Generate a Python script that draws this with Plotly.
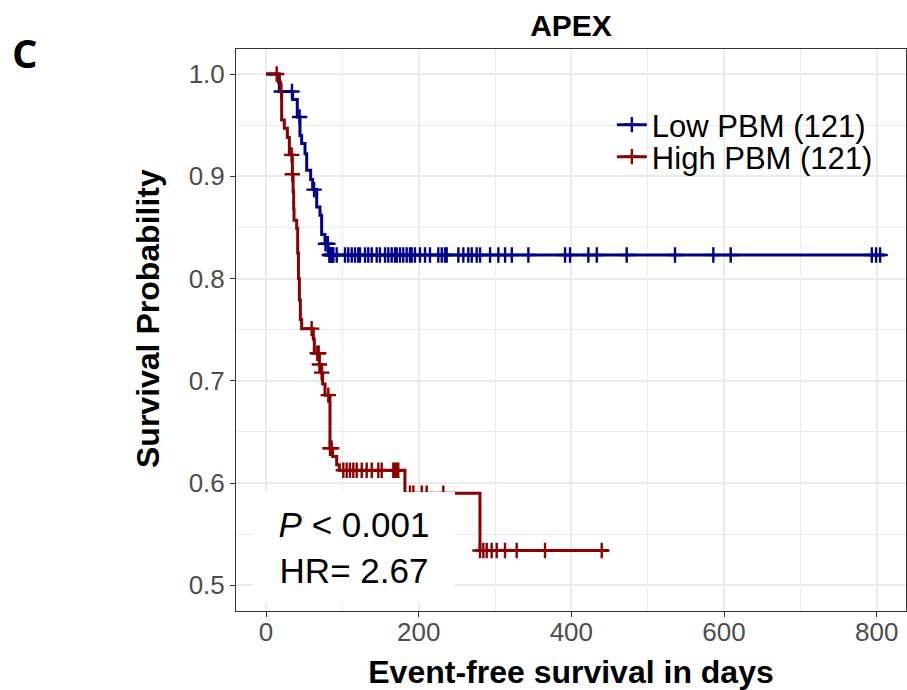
import numpy as np
import plotly.graph_objects as go

# ---------------- data ----------------
group_names = ["Low PBM (121)", "High PBM (121)"]

low_step_days = [0, 17.5, 34.9, 41.0, 44.5, 46.7, 51.1, 53.3, 58.5, 61.1, 66.4, 70.7, 72.9, 77.3, 81.6]
low_step_surv = [1.0, 0.983, 0.975, 0.958, 0.940, 0.932, 0.922, 0.906, 0.897, 0.887, 0.870, 0.862, 0.843, 0.834, 0.823]
low_end_day = 810.8
low_censor_days = [20, 34, 44, 63, 78, 81, 83, 84, 85, 86, 87, 88.2, 92.6, 103.5, 107.8, 112.3,
                   116.6, 120.9, 123.1, 129.7, 134, 138.5, 145, 149.3, 155.9, 160.2, 164.6, 168.9,
                   171.2, 175.5, 179.8, 184.3, 188.6, 190.8, 195.1, 201.7, 208.3, 214.8, 225.7,
                   230.2, 234.5, 236.7, 252, 258.5, 265, 269.5, 276, 280.4, 293.5, 304.4, 313.2,
                   322, 343.7, 391.8, 398.3, 422.3, 433.3, 472.5, 535.8, 586, 608.8, 793.6, 799.2,
                   804.5]

high_step_days = [0, 16.2, 19.2, 20.5, 24.0, 28.0, 30.6, 34.5, 35.5, 36.2, 36.7, 40.2, 41.5, 42.5,
                  43.7, 45.0, 46.7, 62.0, 63.3, 69.9, 72.9, 74.2, 77.3, 83.8, 87.3, 92.6, 96.1,
                  182.0, 280.3]
high_step_surv = [1.0, 0.992, 0.983, 0.955, 0.947, 0.938, 0.921, 0.902, 0.885, 0.868, 0.857, 0.849,
                  0.825, 0.800, 0.779, 0.760, 0.751, 0.741, 0.727, 0.716, 0.708, 0.697, 0.686,
                  0.634, 0.626, 0.618, 0.6125, 0.590, 0.534]
high_end_day = 448.4
high_censor_days = [14, 33.6, 34.5, 59.8, 67.2, 69, 70, 72.9, 81.6, 83.8, 86, 101.3, 105.7, 110,
                    114.4, 118.8, 125.4, 131.9, 138.5, 147.1, 151.6, 166.8, 169, 171.2, 173.3,
                    188.6, 193, 204, 210.5, 232.3, 280.3, 284.7, 289.1, 295.6, 302.2, 313.1,
                    328.4, 365.5, 439.8]

x_tick_vals = [0, 200, 400, 600, 800]
y_tick_vals = [0.5, 0.6, 0.7, 0.8, 0.9, 1.0]
y_tick_text = ["0.5", "0.6", "0.7", "0.8", "0.9", "1.0"]

p_text = "<i>P</i> &lt; 0.001"
hr_text = "HR= 2.67"

# ---------------- styling ----------------
FONT = "Liberation Sans, Arial, sans-serif"
colors = ["#00008B", "#8B0000"]
LW = 3
MS = 11

fig = go.Figure()


def add_group(days, surv, end_day, censor_days, color, name, legend_id):
    days = list(days)
    surv = list(surv)
    fig.add_trace(go.Scatter(
        x=days + [end_day], y=surv + [surv[-1]], mode="lines",
        line=dict(color=color, width=LW, shape="hv"),
        showlegend=False, hoverinfo="skip"))
    d = np.array(days)
    s = np.array(surv)
    idx = np.searchsorted(d, np.array(censor_days), side="right") - 1
    fig.add_trace(go.Scatter(
        x=censor_days, y=s[idx], mode="markers",
        marker=dict(symbol="cross-thin", size=MS, color=color,
                    line=dict(color=color, width=2.4)),
        showlegend=False, hoverinfo="skip"))
    # legend entry
    fig.add_trace(go.Scatter(
        x=[None], y=[None], mode="lines+markers", name=name,
        line=dict(color=color, width=LW),
        marker=dict(symbol="cross-thin", size=MS, color=color,
                    line=dict(color=color, width=2.4)),
        legend=legend_id))


add_group(low_step_days, low_step_surv, low_end_day, low_censor_days, colors[0], group_names[0], "legend")
add_group(high_step_days, high_step_surv, high_end_day, high_censor_days, colors[1], group_names[1], "legend2")

GRID = "#EBEBEB"
axis_common = dict(
    showline=True, mirror=True, linecolor="#333333", linewidth=1,
    ticks="outside", ticklen=5, tickwidth=1, tickcolor="#333333",
    tickfont=dict(family=FONT, size=26, color="#4D4D4D"),
    showgrid=True, gridcolor=GRID, gridwidth=1.5, zeroline=False,
)

fig.update_layout(
    width=907, height=690,
    margin=dict(l=236, r=1, t=49, b=79, autoexpand=False),
    paper_bgcolor="white", plot_bgcolor="white",
    font=dict(family=FONT, color="black"),
    title=dict(text="<b>APEX</b>", x=0.5, xref="paper", xanchor="center",
               y=1 - 25 / 690, yref="container", yanchor="middle",
               font=dict(family=FONT, size=30, color="black")),
    xaxis=dict(range=[-39.3, 838.4], tickvals=x_tick_vals, ticklabelstandoff=-7,
               minor=dict(tickvals=[100, 300, 500, 700], showgrid=True, gridcolor=GRID,
                          gridwidth=0.8, ticks=""),
               title=dict(text="<b>Event-free survival in days</b>", standoff=21,
                          font=dict(family=FONT, size=32, color="black")),
               **axis_common),
    yaxis=dict(range=[0.4749, 1.0245], tickvals=y_tick_vals, ticktext=y_tick_text,
               minor=dict(tickvals=[0.55, 0.65, 0.75, 0.85, 0.95], showgrid=True,
                          gridcolor=GRID, gridwidth=0.8, ticks=""),
               **axis_common),
    legend=dict(x=0.561, xanchor="left", y=0.8648, yanchor="middle",
                bgcolor="rgba(0,0,0,0)", font=dict(family=FONT, size=31, color="black")),
    legend2=dict(x=0.561, xanchor="left", y=0.8078, yanchor="middle",
                 bgcolor="rgba(0,0,0,0)", font=dict(family=FONT, size=31, color="black")),
)

# y-axis title (placed as rotated text to match the reference position)
fig.add_annotation(
    x=(148 - 236) / 670, y=(611 - 319) / 562, xref="paper", yref="paper",
    text="<b>Survival Probability</b>", textangle=-90, showarrow=False,
    xanchor="center", yanchor="middle",
    font=dict(family=FONT, size=32, color="black"))

fig.add_annotation(
    x=115.3, y=0.5367, xref="x", yref="y",
    text=p_text + "<br>" + hr_text, showarrow=False,
    align="center", width=180, height=89, borderpad=11,
    bgcolor="white", borderwidth=0,
    font=dict(family=FONT, size=35, color="black"))

fig.add_annotation(
    x=(25 - 236) / 670, y=(611 - 53) / 562, xref="paper", yref="paper",
    text="<b>C</b>", showarrow=False, xanchor="center", yanchor="middle",
    font=dict(family="Open Sans, sans-serif", size=40, color="black"))

fig.write_html("out.html", config={"displayModeBar": False},
               post_script="document.body.style.margin='0';")
